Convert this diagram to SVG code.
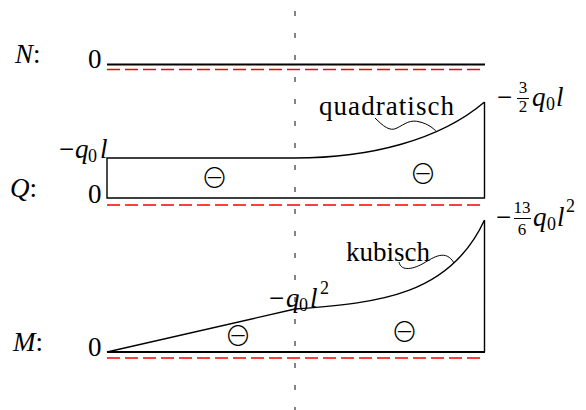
<svg xmlns="http://www.w3.org/2000/svg" width="586" height="410" viewBox="0 0 586 410">
<style>
.t{font-family:"Liberation Serif","Times New Roman",serif;font-size:27px;fill:#000}
.i{font-style:italic}
.s{font-size:18px}
.f{font-size:17px}
.ln{fill:none;stroke:#000;stroke-width:1.4}
.base{fill:none;stroke:#000;stroke-width:1.8}
.red{fill:none;stroke:#f00;stroke-width:1.3;stroke-dasharray:13 5}
.axis{fill:none;stroke:#333;stroke-width:1.2;stroke-dasharray:5 17}
.sn{fill:none;stroke:#000;stroke-width:1}
.om{font-family:"Noto Sans CJK JP","DejaVu Sans",sans-serif;font-weight:300;font-size:27px;text-anchor:middle;fill:#000}
</style>
<rect width="586" height="410" fill="#fff"/>
<g id="connectors">
<line class="axis" x1="295" y1="11" x2="295" y2="410"/>
<path class="sn" d="M375,118 C383,126 390,132 397,128 C405,124 410,119 420,122 C428,124 433,128 437,132"/>
<path class="sn" d="M399,262 C401,272 414,269 424,263 S446,249 454,263"/>
</g>
<g id="N">
<text class="t" x="15" y="63"><tspan class="i">N</tspan>:</text>
<text class="t" x="88" y="68">0</text>
<line class="base" x1="107" y1="64.5" x2="485" y2="64.5"/>
<line class="red" x1="107" y1="69.5" x2="485" y2="69.5"/>
</g>
<g id="Q">
<text class="t" x="10" y="197"><tspan class="i">Q</tspan>:</text>
<text class="t" x="88" y="203">0</text>
<path class="ln" d="M484.5,102 L484.5,198 L107,198 L107,158 L295,158 C370,158 440,140 484.5,102"/>
<line class="red" x1="107" y1="205" x2="485" y2="205"/>
<text class="t" x="59" y="158">−<tspan class="i" x="75">q</tspan><tspan class="s" x="88" y="162">0</tspan><tspan class="i" x="100" y="158">l</tspan></text>
<text class="t" x="319" y="115" textLength="135">quadratisch</text>
<text class="t" x="497" y="106">−</text>
<text class="t f" x="523" y="93" text-anchor="middle">3</text>
<line x1="517" y1="98.5" x2="529" y2="98.5" stroke="#000" stroke-width="1"/>
<text class="t f" x="523" y="112" text-anchor="middle">2</text>
<text class="t" x="532" y="106"><tspan class="i">q</tspan><tspan class="s" x="546" y="110">0</tspan><tspan class="i" x="556" y="106">l</tspan></text>
<text class="om" x="214.5" y="188">⊖</text>
<text class="om" x="423" y="184">⊖</text>
</g>
<g id="M">
<text class="t" x="13" y="351"><tspan class="i">M</tspan>:</text>
<text class="t" x="88" y="356">0</text>
<path class="ln" d="M484.5,220 L484.5,352 M107,352 L295,309 C380,303 450,295 484.5,220"/>
<line class="base" x1="107" y1="352" x2="485" y2="352"/>
<line class="red" x1="107" y1="358" x2="485" y2="358"/>
<text class="t" x="269" y="307">−<tspan class="i" x="286">q</tspan><tspan class="s" x="299" y="311">0</tspan><tspan class="i" x="310" y="307">l</tspan><tspan class="s" x="320" y="294">2</tspan></text>
<text class="t" x="346" y="261" textLength="84">kubisch</text>
<text class="t" x="496" y="226">−</text>
<text class="t f" x="522" y="213" text-anchor="middle">13</text>
<line x1="514" y1="218.5" x2="531" y2="218.5" stroke="#000" stroke-width="1"/>
<text class="t f" x="522" y="235" text-anchor="middle">6</text>
<text class="t" x="533" y="226"><tspan class="i">q</tspan><tspan class="s" x="547" y="230">0</tspan><tspan class="i" x="557" y="226">l</tspan><tspan class="s" x="566" y="212">2</tspan></text>
<text class="om" x="238" y="346">⊖</text>
<text class="om" x="404.5" y="342">⊖</text>
</g>
</svg>
